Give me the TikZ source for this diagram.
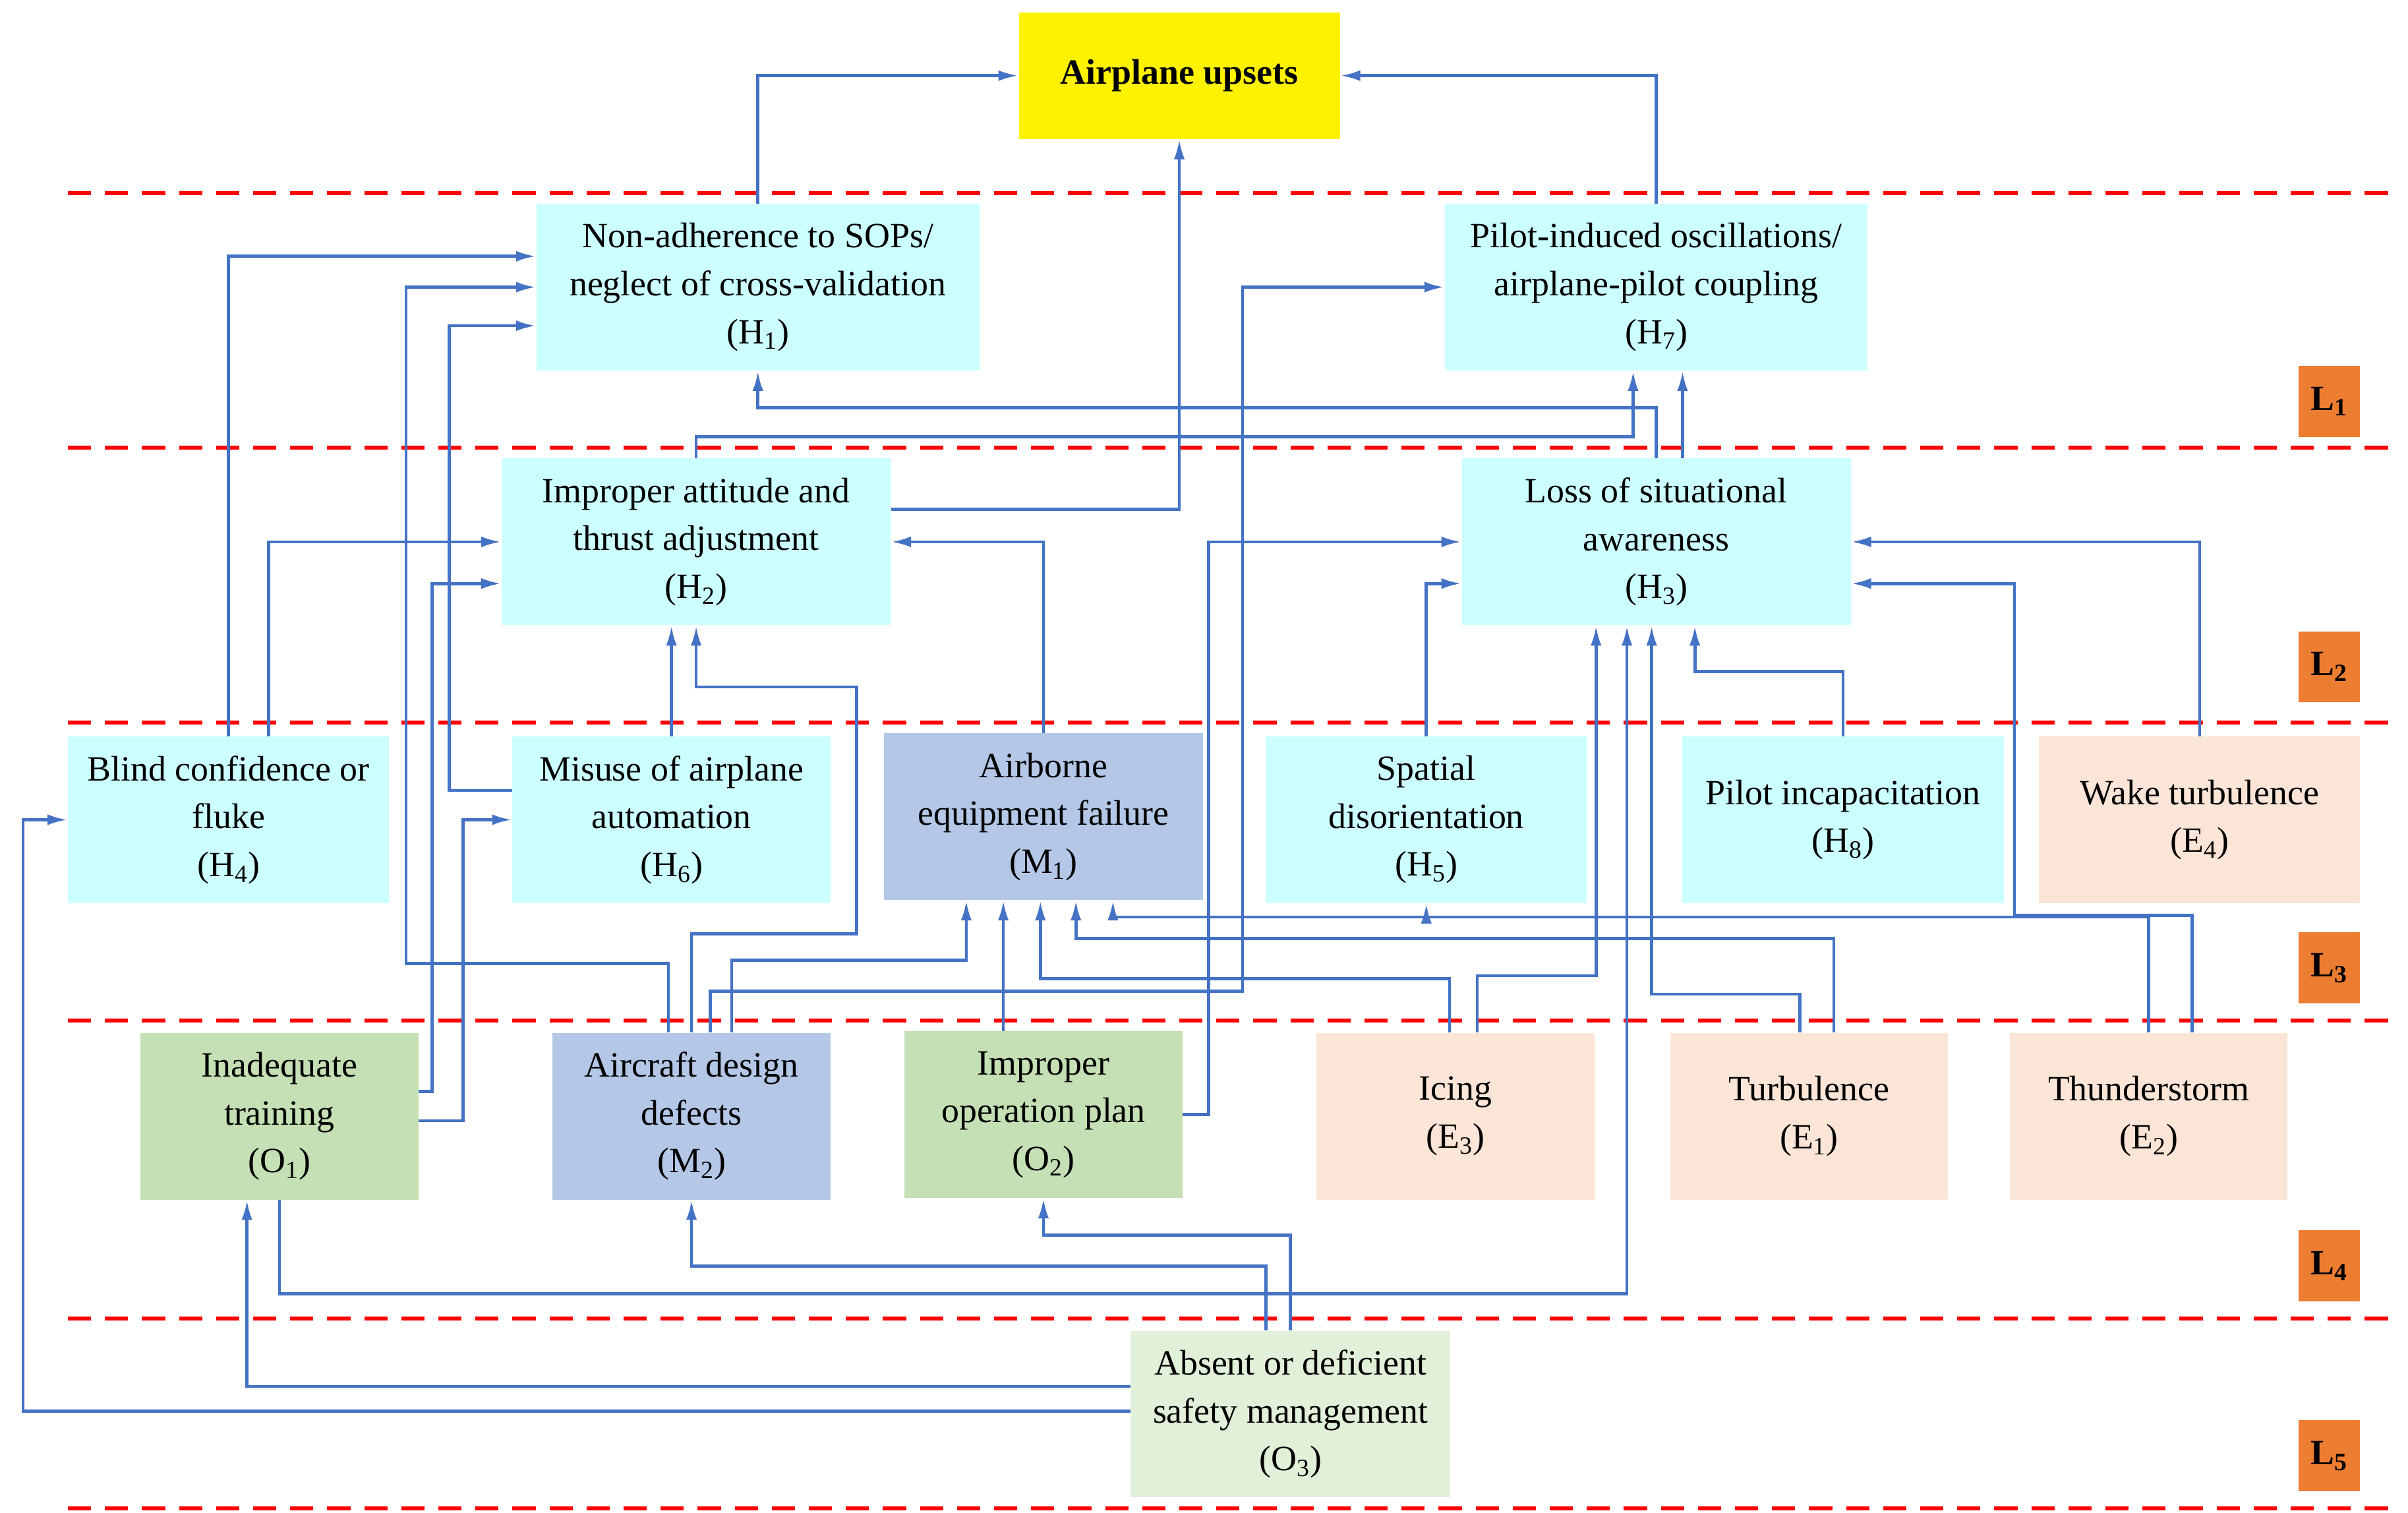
\documentclass[tikz,border=0pt]{standalone}
\usepackage{fontspec}
\setmainfont{Liberation Serif}
\usetikzlibrary{arrows.meta}
\definecolor{hcyan}{RGB}{204,255,255}
\definecolor{mblue}{RGB}{180,199,231}
\definecolor{ogreen}{RGB}{197,224,180}
\definecolor{olight}{RGB}{226,240,217}
\definecolor{epeach}{RGB}{251,229,214}
\definecolor{lorange}{RGB}{237,125,49}
\definecolor{arrblue}{RGB}{68,114,196}
\tikzset{
  box/.style={minimum height=108pt, inner sep=0pt, align=center,
    font=\fontsize{23}{31}\selectfont},
  hbox/.style={box, fill=hcyan},
  mbox/.style={box, fill=mblue},
  obox/.style={box, fill=ogreen},
  ebox/.style={box, fill=epeach},
  arr/.style={draw=arrblue, line width=2pt, -{Latex[length=13pt,width=7pt]}},
  level/.style={draw=red, line width=2.5pt, dash pattern=on 15pt off 9pt},
  lab/.style={fill=lorange, minimum width=40pt, minimum height=46pt, inner sep=0pt,
    font=\fontsize{23}{26}\selectfont\bfseries}
}
\begin{document}
\begin{tikzpicture}[x=1pt,y=-1pt]
\useasboundingbox (0,0) rectangle (1560,980);

% level lines
\foreach \yy in {125,290,468,661,854,977}
  \draw[level] (44,\yy) -- (1550,\yy);
\foreach \yy/\ll in {260/1,432/2,627/3,820/4,943/5}
  \node[lab] (L\ll) at (1509,\yy) {L\textsubscript{\ll}};

% nodes
\node[box, fill=yellow, minimum width=208pt, minimum height=82pt, font=\fontsize{23}{31}\selectfont\bfseries] (up) at (764,49) {Airplane upsets};
\node[hbox, minimum width=287pt] (H1) at (491,186) {Non-adherence to SOPs/\\neglect of cross-validation\\(H\textsubscript{1})};
\node[hbox, minimum width=274pt] (H7) at (1073,186) {Pilot-induced oscillations/\\airplane-pilot coupling\\(H\textsubscript{7})};
\node[hbox, minimum width=252pt] (H2) at (451,351) {Improper attitude and\\thrust adjustment\\(H\textsubscript{2})};
\node[hbox, minimum width=252pt] (H3) at (1073,351) {Loss of situational\\awareness\\(H\textsubscript{3})};
\node[hbox, minimum width=208pt] (H4) at (148,531) {Blind confidence or\\fluke\\(H\textsubscript{4})};
\node[hbox, minimum width=206pt] (H6) at (435,531) {Misuse of airplane\\automation\\(H\textsubscript{6})};
\node[mbox, minimum width=207pt] (M1) at (676,529) {Airborne\\equipment failure\\(M\textsubscript{1})};
\node[hbox, minimum width=208pt] (H5) at (924,531) {Spatial\\disorientation\\(H\textsubscript{5})};
\node[hbox, minimum width=208pt] (H8) at (1194,531) {Pilot incapacitation\\(H\textsubscript{8})};
\node[ebox, minimum width=208pt] (E4) at (1425,531) {Wake turbulence\\(E\textsubscript{4})};
\node[obox, minimum width=180pt] (O1) at (181,723) {Inadequate\\training\\(O\textsubscript{1})};
\node[mbox, minimum width=180pt] (M2) at (448,723) {Aircraft design\\defects\\(M\textsubscript{2})};
\node[obox, minimum width=180pt] (O2) at (676,722) {Improper\\operation plan\\(O\textsubscript{2})};
\node[ebox, minimum width=180pt] (E3) at (943,723) {Icing\\(E\textsubscript{3})};
\node[ebox, minimum width=180pt] (E1) at (1172,723) {Turbulence\\(E\textsubscript{1})};
\node[ebox, minimum width=180pt] (E2) at (1392,723) {Thunderstorm\\(E\textsubscript{2})};
\node[box, fill=olight, minimum width=207pt] (O3) at (836,916) {Absent or deficient\\safety management\\(O\textsubscript{3})};

% connectors
\draw[arr] (H1.north) |- (up.west);
\draw[arr] (H7.north) |- (up.east);
\draw[arr] (H2.east |- 0,330) -| (up.south);
\draw[arr] (H4.north) |- (H1.west |- 0,166);
\draw[arr] (H4.north -| 174,0) |- (H2.west);
\draw[arr] (M2.north -| 433,0) |- (263,624) |- (H1.west);
\draw[arr] (H6.west |- 0,512) -| (291,211) -- (H1.west |- 0,211);
\draw[arr] (O1.east |- 0,707) -| (280,378) -- (H2.west |- 0,378);
\draw[arr] (O1.east |- 0,726) -| (300,531) -- (H6.west);
\draw[arr] (H6.north) -- (H2.south -| H6.north);
\draw[arr] (M2.north -| 448,0) |- (555,605) |- (451,445) -- (H2.south -| 451,0);
\draw[arr] (M2.north -| 474,0) |- (626,622) -- (M1.south -| 626,0);
\draw[arr] (M2.north -| 460,0) |- (805,642) |- (H7.west);
\draw[arr] (M1.north) |- (H2.east);
\draw[arr] (H2.north -| 451,0) |- (1058,283) -- (H7.south -| 1058,0);
\draw[arr] (H3.north) |- (H1.south |- 0,264) -- (H1.south);
\draw[arr] (H3.north -| 1090,0) -- (H7.south -| 1090,0);
\draw[arr] (O2.east) -| (783,351) -- (H3.west);
\draw[arr] (H5.north) |- (H3.west |- 0,378);
\draw[arr] (H8.north) |- (1098,435) -- (H3.south -| 1098,0);
\draw[arr] (E4.north) |- (H3.east);
\draw[arr] (E2.north -| 1420,0) |- (1305,593) |- (H3.east |- 0,378);
\draw[arr] (E2.north) |- (721,594) -- (M1.south -| 721,0);
\draw[arr] (H5.south |- 0,594) -- (H5.south);
\draw[arr] (E1.north -| 1188,0) |- (697,608) -- (M1.south -| 697,0);
\draw[arr] (E1.north -| 1166,0) |- (1070,644) -- (H3.south -| 1070,0);
\draw[arr] (E3.north -| 939,0) |- (674,634) -- (M1.south -| 674,0);
\draw[arr] (E3.north -| 957,0) |- (1034,632) -- (H3.south -| 1034,0);
\draw[arr] (O2.north -| 650,0) -- (M1.south -| 650,0);
\draw[arr] (O1.south) |- (1054,838) -- (H3.south -| 1054,0);
\draw[arr] (O3.north -| 820,0) |- (448,820) -- (M2.south);
\draw[arr] (O3.north) |- (676,800) -- (O2.south);
\draw[arr] (O3.west |- 0,898) -| (O1.south -| 160,0);
\draw[arr] (O3.west |- 0,914) -| (15,531) -- (H4.west);

\end{tikzpicture}
\end{document}
